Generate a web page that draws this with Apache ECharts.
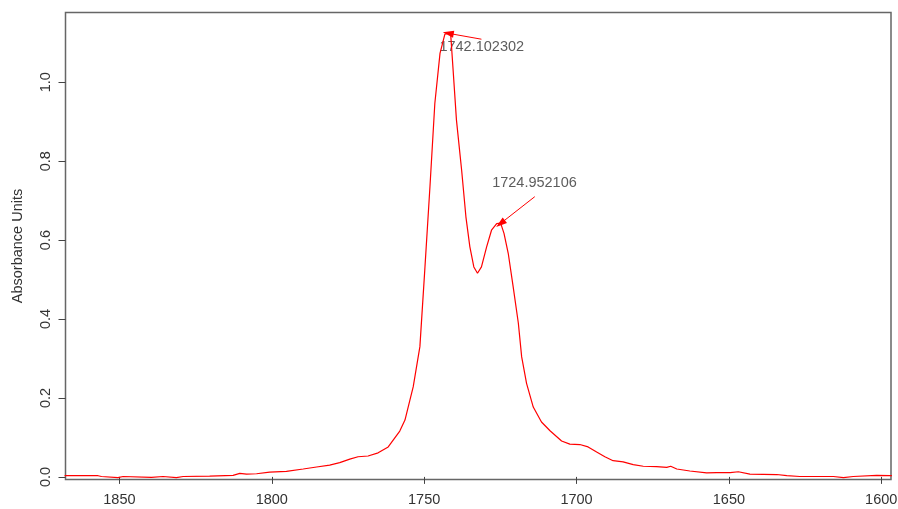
<!DOCTYPE html>
<html>
<head>
<meta charset="utf-8">
<script src="https://cdn.jsdelivr.net/npm/echarts@6/dist/echarts.min.js"></script>
<style>
html,body{margin:0;padding:0;background:#fff;}
#chart{width:898px;height:509px;}
</style>
</head>
<body>
<div id="chart"></div>
<script>
// Wavenumber (cm-1), as drawn left to right (axis reversed)
var wavenumber = [1868.0,1867.4,1857.0,1855.9,1850.5,1848.8,1839.5,1835.7,1831.3,1829.1,1820.4,1812.7,1810.5,1808.3,1805.0,1800.7,1795.2,1789.7,1785.3,1781.0,1777.7,1774.4,1771.7,1768.4,1765.1,1761.8,1758.0,1756.3,1754.7,1753.6,1751.4,1749.8,1748.1,1746.5,1744.8,1743.2,1742.1,1741.3,1740.5,1739.4,1737.7,1736.3,1735.0,1733.7,1732.5,1731.2,1729.5,1727.9,1726.2,1724.9,1723.8,1722.4,1720.8,1719.1,1718.0,1716.4,1714.2,1711.5,1708.7,1704.9,1702.2,1698.9,1696.2,1693.4,1690.7,1688.0,1684.7,1681.4,1678.1,1673.7,1670.4,1669.1,1667.1,1662.8,1657.3,1654.0,1649.6,1646.9,1643.1,1634.3,1631.0,1626.7,1615.7,1612.4,1609.2,1601.5,1597.1,1596.5];
// Absorbance values
var absorbance = [0.003,0.003,0.003,0.001,-0.002,0.001,-0.001,0.001,-0.002,0.001,0.002,0.004,0.009,0.007,0.008,0.012,0.014,0.020,0.025,0.030,0.036,0.045,0.051,0.053,0.061,0.076,0.116,0.144,0.194,0.228,0.330,0.524,0.735,0.946,1.073,1.122,1.124,1.122,1.031,0.904,0.777,0.659,0.583,0.532,0.516,0.532,0.583,0.625,0.642,0.643,0.617,0.566,0.482,0.390,0.304,0.237,0.177,0.139,0.117,0.091,0.083,0.082,0.076,0.063,0.051,0.041,0.038,0.031,0.027,0.026,0.024,0.027,0.020,0.015,0.010,0.011,0.011,0.013,0.007,0.006,0.003,0.001,0.001,-0.002,0.001,0.004,0.003,0.003];

// Axis ticks
var xTicks = [1850,1800,1750,1700,1650,1600];
var yTicks = [0.0,0.2,0.4,0.6,0.8,1.0];

// Annotations
var annoText = ['1742.102302','1724.952106'];
var annoTextX = [1731.1, 1713.8];
var annoTextY = [1.090, 0.744];
var arrowFromX = [1731.2, 1713.7];
var arrowFromY = [1.109, 0.710];
var arrowToX = [1742.1, 1724.95];
var arrowToY = [1.124, 0.642];

var lineData = wavenumber.map(function(x,i){return [x, absorbance[i]];});
var textData = annoText.map(function(t,i){return {value:[annoTextX[i], annoTextY[i]], name:t};});
var arrowData = annoText.map(function(t,i){
  return [{coord:[arrowFromX[i], arrowFromY[i]], symbol:'none'},
          {coord:[arrowToX[i], arrowToY[i]], symbol:'triangle', symbolSize:[7,11]}];
});

var txt = '#333333';
var fs = 14.5;
var ff = 'Liberation Sans, Arial, sans-serif';
var chart = echarts.init(document.getElementById('chart'), null, {renderer:'canvas'});
chart.setOption({
  animation:false,
  backgroundColor:'#ffffff',
  grid:{left:65.5,right:7,top:12.5,bottom:29.5,containLabel:false,outerBoundsMode:'none',
        show:true,borderColor:'#666666',borderWidth:1.5,backgroundColor:'transparent'},
  xAxis:{
    type:'value', inverse:true, min:1596.8, max:1867.7,
    axisLine:{show:false},
    splitLine:{show:false},
    axisTick:{show:true, customValues:xTicks, length:7, lineStyle:{color:'#444',width:1}},
    axisLabel:{customValues:xTicks, margin:13, color:txt, fontSize:fs, fontFamily:ff,
      formatter:function(v){return String(v);}}
  },
  yAxis:{
    type:'value', min:-0.0066, max:1.1767,
    axisLine:{show:false},
    splitLine:{show:false},
    axisTick:{show:true, customValues:yTicks, length:7, lineStyle:{color:'#444',width:1}},
    axisLabel:{customValues:yTicks, rotate:90, margin:12, color:txt, fontSize:fs, fontFamily:ff,
      formatter:function(v){return v.toFixed(1);}},
    name:'Absorbance Units', nameLocation:'middle', nameRotate:90, nameGap:40,
    nameTextStyle:{color:txt, fontSize:fs, fontFamily:ff}
  },
  series:[
    {
      type:'line', data:lineData, showSymbol:false, symbol:'none', smooth:false, clip:true,
      lineStyle:{color:'#ff0000', width:1.2},
      markLine:{silent:true, animation:false, label:{show:false},
        lineStyle:{color:'#ff0000', width:1, type:'solid'},
        emphasis:{disabled:true},
        data:arrowData}
    },
    {
      type:'scatter', data:textData, symbolSize:0, silent:true,
      label:{show:true, position:'inside', formatter:function(p){return p.name;}, color:txt, fontSize:fs, fontFamily:ff}
    }
  ]
});
</script>
</body>
</html>
